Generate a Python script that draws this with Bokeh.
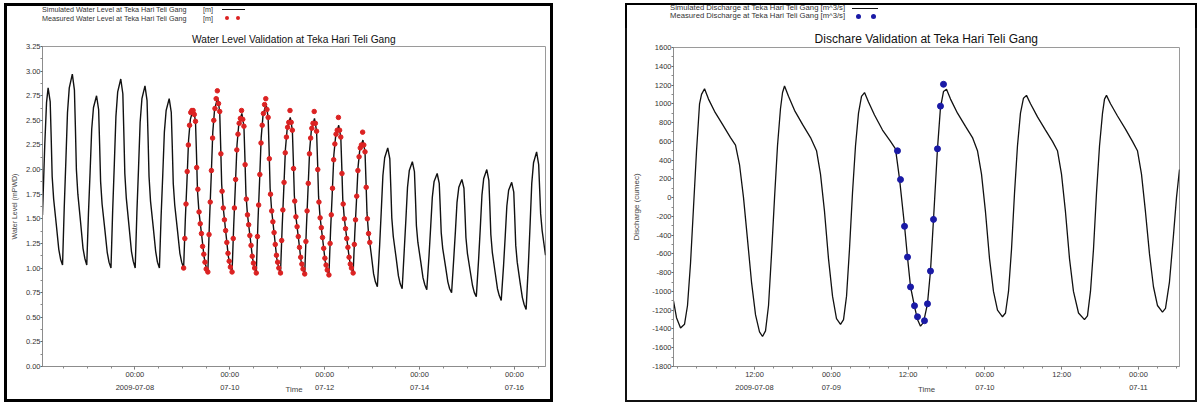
import pandas as pd
from bokeh.plotting import figure
from bokeh.layouts import row, column
from bokeh.models import (FixedTicker, Range1d, PrintfTickFormatter,
                          NumeralTickFormatter, ColumnDataSource, Div)
from bokeh.embed import file_html
from bokeh.resources import INLINE

FONT = "Liberation Sans"

# ---------------- Water level (left) ----------------
WL_BASE = "2009-07-06 00:00"
wl_sim_hours = [
    1.26, 2.4, 3.3, 4.1, 5.15, 5.65, 6.15, 6.9, 8.3, 9.5, 10.4, 11.4,
    12.25, 13.1, 13.9, 14.8, 16.35, 17.4, 17.9, 18.4, 19.15, 20.55, 21.75, 22.65, 23.65,
    24.5, 25.35, 26.15, 27.05, 28.6, 29.65, 30.15, 30.65, 31.4, 32.8, 34.0, 34.9, 35.9,
    36.75, 37.6, 38.4, 39.3, 40.85, 41.9, 42.4, 42.9, 43.65, 45.05, 46.25, 47.15, 48.15,
    49.0, 49.85, 50.65, 51.55, 53.1, 54.15, 54.65, 55.15, 55.9, 57.3, 58.5, 59.4, 60.4,
    61.25, 62.1, 62.9, 63.8, 65.35, 66.4, 66.9, 67.4, 68.15, 69.55, 70.75, 71.65, 72.65,
    73.5, 74.35, 75.15, 76.05, 77.6, 78.65, 79.15, 79.65, 80.4, 81.8, 83.0, 83.9, 84.9,
    85.75, 86.6, 87.4, 88.3, 89.85, 90.9, 91.4, 91.9, 92.65, 94.05, 95.25, 96.15, 97.15,
    98.0, 98.85, 99.65, 100.55, 102.1, 103.15, 103.65, 104.15, 104.9, 106.3, 107.5, 108.4, 109.4,
    110.25, 111.1, 111.9, 112.8, 114.35, 115.4, 115.9, 116.4, 117.15, 118.55, 119.75, 120.65, 121.65,
    122.5, 123.35, 124.15, 125.05, 126.6, 127.65, 128.15, 128.65, 129.4, 130.8, 132.0, 132.9, 133.9,
    134.75, 135.6, 136.4, 137.3, 138.85, 139.9, 140.4, 140.9, 141.65, 143.05, 144.25, 145.15, 146.15,
    147.0, 147.85, 148.65, 149.55, 151.1, 152.15, 152.65, 153.15, 153.9, 155.3, 156.5, 157.4, 158.4,
    159.25, 160.1, 160.9, 161.8, 163.35, 164.4, 164.9, 165.4, 166.15, 167.55, 168.75, 169.65, 170.65,
    171.8, 172.65, 173.45, 174.35, 175.9, 176.95, 177.45, 177.95, 178.7, 180.1, 181.3, 182.2, 183.2,
    184.25, 185.1, 185.9, 186.8, 188.35, 189.4, 189.9, 190.4, 191.15, 192.55, 193.75, 194.65, 195.65,
    196.8, 197.65, 198.45, 199.35, 200.9, 201.95, 202.45, 202.95, 203.7, 205.1, 206.3, 207.2, 208.2,
    209.3, 210.15, 210.95, 211.85, 213.4, 214.45, 214.95, 215.45, 216.2, 217.6, 218.8, 219.7, 220.7,
    221.9, 222.75, 223.55, 224.45, 226.0, 227.05, 227.55, 228.05, 228.8, 230.2, 231.4, 232.3, 233.3,
    234.5, 235.35, 236.15, 237.05, 238.6, 239.65, 240.15, 240.65, 241.4, 242.8, 244.0, 244.9, 245.9,
    247.1, 247.95, 248.75, 249.65, 251.2, 252.25, 252.75, 253.25, 254.0, 255.7,
]
wl_sim = [
    1.54, 2.25, 2.68, 2.83, 2.69, 2.33, 1.93, 1.70, 1.43, 1.19, 1.09, 1.03,
    1.61, 2.10, 2.58, 2.83, 2.97, 2.81, 2.43, 2.00, 1.75, 1.46, 1.20, 1.10, 1.03,
    1.55, 1.98, 2.41, 2.63, 2.75, 2.61, 2.26, 1.88, 1.65, 1.39, 1.16, 1.06, 1.00,
    1.58, 2.06, 2.54, 2.79, 2.92, 2.77, 2.38, 1.96, 1.71, 1.42, 1.17, 1.07, 1.00,
    1.56, 2.02, 2.48, 2.72, 2.85, 2.70, 2.33, 1.93, 1.68, 1.41, 1.17, 1.06, 1.00,
    1.52, 1.95, 2.38, 2.60, 2.72, 2.58, 2.24, 1.86, 1.64, 1.38, 1.15, 1.06, 1.00,
    1.49, 1.89, 2.30, 2.51, 2.62, 2.49, 2.16, 1.79, 1.57, 1.33, 1.11, 1.02, 0.96,
    1.49, 1.93, 2.38, 2.61, 2.73, 2.59, 2.23, 1.85, 1.62, 1.35, 1.12, 1.02, 0.96,
    1.44, 1.85, 2.25, 2.46, 2.57, 2.44, 2.12, 1.76, 1.55, 1.31, 1.10, 1.01, 0.95,
    1.47, 1.90, 2.33, 2.55, 2.67, 2.53, 2.19, 1.81, 1.59, 1.33, 1.10, 1.01, 0.95,
    1.42, 1.82, 2.21, 2.42, 2.53, 2.40, 2.09, 1.74, 1.53, 1.29, 1.08, 1.00, 0.94,
    1.41, 1.81, 2.20, 2.41, 2.52, 2.39, 2.08, 1.73, 1.52, 1.28, 1.07, 0.99, 0.93,
    1.39, 1.77, 2.15, 2.34, 2.45, 2.33, 2.03, 1.70, 1.51, 1.28, 1.09, 1.00, 0.95,
    1.36, 1.69, 2.03, 2.21, 2.30, 2.18, 1.88, 1.56, 1.36, 1.14, 0.94, 0.86, 0.81,
    1.23, 1.59, 1.94, 2.12, 2.22, 2.11, 1.82, 1.51, 1.32, 1.11, 0.92, 0.84, 0.79,
    1.18, 1.50, 1.82, 1.99, 2.08, 1.98, 1.72, 1.43, 1.26, 1.07, 0.90, 0.83, 0.78,
    1.13, 1.43, 1.72, 1.88, 1.96, 1.86, 1.62, 1.36, 1.20, 1.02, 0.86, 0.79, 0.75,
    1.10, 1.38, 1.67, 1.82, 1.90, 1.81, 1.57, 1.31, 1.15, 0.97, 0.82, 0.75, 0.71,
    1.10, 1.42, 1.74, 1.91, 2.00, 1.89, 1.63, 1.34, 1.16, 0.96, 0.79, 0.72, 0.67,
    1.03, 1.33, 1.63, 1.79, 1.87, 1.77, 1.51, 1.23, 1.06, 0.86, 0.70, 0.63, 0.58,
    1.06, 1.46, 1.86, 2.07, 2.18, 2.05, 1.80, 1.55, 1.38, 1.13,
]
wl_obs_hours = [
    72.65, 73.25, 73.85, 74.45, 75.05, 75.65, 76.25, 76.85, 77.45, 78.05,
    78.65, 79.25, 79.85, 80.45, 81.05, 81.65, 82.25, 82.85, 83.45, 84.05,
    84.9, 85.5, 86.1, 86.7, 87.3, 87.9, 88.5, 89.1, 89.7, 90.3,
    90.9, 91.5, 92.1, 92.7, 93.3, 93.9, 94.5, 95.1, 95.7, 96.3,
    97.15, 97.75, 98.35, 98.95, 99.55, 100.15, 100.75, 101.35, 101.95, 102.55,
    103.15, 103.75, 104.35, 104.95, 105.55, 106.15, 106.75, 107.35, 107.95, 108.55,
    109.4, 110.0, 110.6, 111.2, 111.8, 112.4, 113.0, 113.6, 114.2, 114.8,
    115.4, 116.0, 116.6, 117.2, 117.8, 118.4, 119.0, 119.6, 120.2, 120.8,
    121.65, 122.25, 122.85, 123.45, 124.05, 124.65, 125.25, 125.85, 126.45, 127.05,
    127.65, 128.25, 128.85, 129.45, 130.05, 130.65, 131.25, 131.85, 132.45, 133.05,
    133.9, 134.5, 135.1, 135.7, 136.3, 136.9, 137.5, 138.1, 138.7, 139.3,
    139.9, 140.5, 141.1, 141.7, 142.3, 142.9, 143.5, 144.1, 144.7, 145.3,
    146.15, 146.75, 147.35, 147.95, 148.55, 149.15, 149.75, 150.35, 150.95, 151.55,
    152.15, 152.75, 153.35, 153.95, 154.55, 155.15, 155.75, 156.35, 156.95, 157.55,
    158.4, 159.0, 159.6, 160.2, 160.8, 161.4, 162.0, 162.6, 163.2, 163.8,
    164.4, 165.0, 165.6, 166.2, 166.8,
]
wl_obs = [
    1.00, 1.30, 1.65, 1.98, 2.25, 2.45, 2.58, 2.60, 2.60, 2.56,
    2.49, 2.02, 1.80, 1.57, 1.45, 1.35, 1.22, 1.14, 1.06, 0.99,
    0.96, 1.34, 1.67, 1.99, 2.32, 2.50, 2.62, 2.72, 2.80, 2.67,
    2.59, 2.16, 1.78, 1.61, 1.49, 1.38, 1.26, 1.15, 1.07, 1.01,
    0.96, 1.30, 1.61, 1.90, 2.20, 2.36, 2.47, 2.52, 2.60, 2.51,
    2.44, 2.05, 1.70, 1.54, 1.44, 1.33, 1.23, 1.12, 1.05, 1.00,
    0.95, 1.32, 1.64, 1.95, 2.27, 2.45, 2.57, 2.66, 2.72, 2.61,
    2.53, 2.11, 1.75, 1.58, 1.47, 1.36, 1.24, 1.13, 1.06, 1.00,
    0.95, 1.28, 1.59, 1.87, 2.17, 2.33, 2.43, 2.48, 2.60, 2.48,
    2.40, 2.01, 1.68, 1.52, 1.42, 1.32, 1.21, 1.11, 1.04, 0.99,
    0.94, 1.27, 1.58, 1.86, 2.16, 2.32, 2.42, 2.47, 2.59, 2.47,
    2.39, 2.00, 1.67, 1.51, 1.41, 1.31, 1.20, 1.10, 1.03, 0.98,
    0.93, 1.25, 1.54, 1.81, 2.10, 2.26, 2.36, 2.40, 2.53, 2.40,
    2.33, 1.96, 1.65, 1.50, 1.40, 1.30, 1.21, 1.11, 1.04, 1.00,
    0.95, 1.24, 1.49, 1.73, 1.99, 2.13, 2.22, 2.25, 2.38, 2.25,
    2.18, 1.82, 1.50, 1.35, 1.26,
]
wl_x_range_hours = [1.26, 255.7]
wl_y_ticks = [0.0, 0.25, 0.5, 0.75, 1.0, 1.25, 1.5, 1.75, 2.0, 2.25, 2.5, 2.75, 3.0, 3.25]
wl_x_ticks = ["2009-07-08 00:00", "2009-07-10 00:00", "2009-07-12 00:00",
              "2009-07-14 00:00", "2009-07-16 00:00"]
wl_x_tick_labels = ["00:00\n2009-07-08", "00:00\n07-10", "00:00\n07-12",
                    "00:00\n07-14", "00:00\n07-16"]
wl_legend = ["Simulated Water Level at Teka Hari Teli Gang",
             "Measured Water Level at Teka Hari Teli Gang"]
wl_unit = "[m]"

# ---------------- Discharge (right) ----------------
Q_BASE = "2009-07-08 00:00"
q_sim_hours = [
    -0.66, -0.19, 0.44, 1.06, 1.53, 2.0, 2.47, 2.94, 3.41, 3.72, 4.19, 4.81, 5.75, 7.0, 8.25,
    9.03, 9.66, 10.28, 10.91, 11.53, 12.16, 12.78, 13.25, 13.72, 14.19, 14.66, 15.13, 15.59,
    16.06, 16.38, 16.69, 17.31, 18.25, 19.5, 20.75, 21.69, 22.31, 22.94, 23.56, 24.19, 24.81,
    25.44, 25.91, 26.38, 26.84, 27.31, 27.78, 28.25, 28.72, 29.19, 29.81, 30.75, 32.0, 33.25,
    34.03, 34.66, 35.44, 35.91, 36.38, 37.0, 37.47, 37.94, 38.41, 39.03, 39.5, 39.97, 40.59,
    41.06, 41.53, 42.0, 42.63, 43.72, 44.97, 46.06, 46.84, 47.47, 48.09, 48.72, 49.34, 49.97,
    50.75, 51.22, 51.69, 52.16, 52.63, 53.09, 53.56, 54.03, 54.5, 55.13, 56.22, 57.47, 58.56,
    59.34, 59.97, 60.59, 61.22, 61.84, 62.63, 63.56, 64.03, 64.5, 64.97, 65.44, 65.91, 66.38,
    66.69, 67.0, 67.63, 68.72, 69.97, 71.06, 71.84, 72.47, 73.09, 73.72, 74.34, 74.97, 75.75,
    76.22, 76.84, 77.47, 77.94, 78.41,
]
q_sim = [
    -1100, -1280, -1390, -1350, -1150, -700, -100, 500, 1000, 1100, 1160, 1050, 920, 780, 640,
    560, 350, 0, -450, -900, -1250, -1430, -1480, -1420, -1150, -600, 0, 550,
    950, 1120, 1190, 1080, 930, 780, 640, 500, 250, -150, -650, -1050, -1290,
    -1350, -1300, -1050, -550, 50, 550, 900, 1080, 1120, 1020, 880, 720, 600,
    520, 200, -300, -640, -950, -1160, -1300, -1370, -1330, -1130, -780, -230, 520,
    960, 1130, 1155, 1050, 900, 760, 640, 500, 250, -150, -650, -1000, -1200,
    -1270, -1230, -1000, -550, 50, 550, 900, 1060, 1090, 1000, 860, 720, 600,
    500, 250, -150, -650, -1000, -1230, -1300, -1260, -1000, -550, 50, 550, 900,
    1050, 1090, 1000, 870, 730, 600, 500, 250, -150, -600, -950, -1150, -1220,
    -1180, -900, -400, 0, 300,
]
q_obs_hours = [34.34, 34.81, 35.44, 35.91, 36.38, 37.0, 37.47,
               38.56, 39.03, 39.5, 39.97, 40.59, 41.06, 41.53]
q_obs = [499, 192, -306, -634, -952, -1153, -1270,
         -1312, -1132, -783, -232, 520, 975, 1208]
q_x_range_hours = [-0.66, 78.41]
q_y_ticks = [-1800, -1600, -1400, -1200, -1000, -800, -600, -400, -200, 0,
             200, 400, 600, 800, 1000, 1200, 1400, 1600]
q_x_ticks = ["2009-07-08 12:00", "2009-07-09 00:00", "2009-07-09 12:00",
             "2009-07-10 00:00", "2009-07-10 12:00", "2009-07-11 00:00"]
q_x_tick_labels = ["12:00\n2009-07-08", "00:00\n07-09", "12:00",
                   "00:00\n07-10", "12:00", "00:00\n07-11"]
q_legend = ["Simulated Discharge at Teka Hari Teli Gang [m^3/s]",
            "Measured Discharge at Teka Hari Teli Gang [m^3/s]"]

RED = "#dc2222"
BLUE = "#1a1aa6"


def to_dt(base, hours):
    return (pd.Timestamp(base) + pd.to_timedelta(hours, unit="h")).values


def ms(ts):
    return pd.Timestamp(ts).value / 1e6


def style_axes(p, tick_size):
    for ax in (p.xaxis[0], p.yaxis[0]):
        ax.axis_line_color = "#8c8c8c"
        ax.major_tick_line_color = "#666666"
        ax.minor_tick_line_color = "#888888"
        ax.major_tick_out = 3
        ax.major_tick_in = 0
        ax.minor_tick_out = 2
        ax.minor_tick_in = 0
        ax.major_label_text_font = FONT
        ax.major_label_text_font_size = tick_size
        ax.major_label_text_color = "#333333"
        ax.major_label_text_line_height = 1.5
        ax.major_label_standoff = 0
        ax.axis_label_text_font = FONT
        ax.axis_label_text_font_style = "normal"
        ax.axis_label_text_color = "#444444"
    p.yaxis.major_tick_out = 2
    p.grid.visible = False
    p.outline_line_color = "#9a9a9a"
    p.outline_line_width = 1
    p.border_fill_alpha = 0


def span(left, top, text, size):
    return (f'<span style="position:absolute;left:{left}px;top:{top}px;white-space:nowrap;'
            f'font-size:{size}px;line-height:1;">{text}</span>')


def hline(left, top, width, color):
    return (f'<span style="position:absolute;left:{left}px;top:{top}px;width:{width}px;'
            f'height:0;border-top:1.4px solid {color};"></span>')


def dot(cx, cy, d, color):
    return (f'<span style="position:absolute;left:{cx - d / 2}px;top:{cy - d / 2}px;width:{d}px;'
            f'height:{d}px;border-radius:50%;background:{color};"></span>')


def legend_div(width, height, border, inner):
    html = (f'<div style="position:relative;width:{width - 2 * border}px;height:{height - border}px;'
            f'font-family:\'{FONT}\';color:#333333;overflow:visible;">{inner}</div>')
    d = Div(text=html, width=width, height=height, margin=0)
    d.styles = {"border": f"{border}px solid #000000", "border-bottom": "none",
                "box-sizing": "border-box", "background": "#ffffff", "overflow": "visible"}
    return d


# ---------- left panel ----------
wl_x0 = ms(pd.Timestamp(WL_BASE) + pd.Timedelta(hours=wl_x_range_hours[0]))
wl_x1 = ms(pd.Timestamp(WL_BASE) + pd.Timedelta(hours=wl_x_range_hours[1]))
p1 = figure(width=549, height=373, x_axis_type="datetime", output_backend="svg",
            toolbar_location=None, x_range=Range1d(wl_x0, wl_x1),
            y_range=Range1d(wl_y_ticks[0], wl_y_ticks[-1]),
            min_border_left=35, min_border_right=11, min_border_top=17, min_border_bottom=36,
            title="Water Level Validation at Teka Hari Teli Gang", margin=0)
p1.title.text_font = FONT
p1.title.text_font_size = "10.2px"
p1.title.text_font_style = "normal"
p1.title.text_color = "#111111"
p1.title.align = "center"
p1.title.standoff = 3
style_axes(p1, "7.5px")
wl_major = [ms(t) for t in wl_x_ticks]
wl_minor = [ms(pd.Timestamp("2009-07-06 12:00") + pd.Timedelta(hours=12 * i)) for i in range(21)]
p1.xaxis.ticker = FixedTicker(ticks=wl_major, minor_ticks=wl_minor)
p1.xaxis.major_label_overrides = dict(zip(wl_major, wl_x_tick_labels))
p1.xaxis.axis_label = "Time"
p1.xaxis.axis_label_text_font_size = "7.8px"
p1.xaxis.axis_label_standoff = -10
p1.yaxis.ticker = FixedTicker(ticks=wl_y_ticks,
                              minor_ticks=[v + 0.125 for v in wl_y_ticks[:-1]])
p1.yaxis.formatter = NumeralTickFormatter(format="0.00")
p1.yaxis.axis_label = "Water Level (mPWD)"
p1.yaxis.axis_label_text_font_size = "7px"
p1.yaxis.axis_label_standoff = 5

src1 = ColumnDataSource(dict(t=to_dt(WL_BASE, wl_sim_hours), v=wl_sim))
obs1 = ColumnDataSource(dict(t=to_dt(WL_BASE, wl_obs_hours), v=wl_obs))
p1.line("t", "v", source=src1, line_color="#111111", line_width=1.4)
p1.scatter("t", "v", source=obs1, size=4.5, fill_color=RED, line_color=RED)
p1.styles = {"border": "3px solid #000000", "border-top": "none"}

leg1_inner = (span(35, 0, wl_legend[0], 7.2) + span(35, 8.5, wl_legend[1], 7.2)
              + span(196, 0, wl_unit, 7.2) + span(196, 8.5, wl_unit, 7.2)
              + hline(215, 3, 23, "#111111")
              + dot(220, 12, 4, RED) + dot(231, 12, 4, RED))
div1 = legend_div(549, 26, 3, leg1_inner)
panel1 = column(div1, p1, spacing=0)
panel1.margin = (3, 0, 0, 4)

# ---------- right panel ----------
q_x0 = ms(pd.Timestamp(Q_BASE) + pd.Timedelta(hours=q_x_range_hours[0]))
q_x1 = ms(pd.Timestamp(Q_BASE) + pd.Timedelta(hours=q_x_range_hours[1]))
p2 = figure(width=572, height=374, x_axis_type="datetime", output_backend="svg",
            toolbar_location=None, x_range=Range1d(q_x0, q_x1),
            y_range=Range1d(q_y_ticks[0], q_y_ticks[-1]),
            min_border_left=46, min_border_right=20, min_border_top=18, min_border_bottom=36,
            title="Dischare Validation at Teka Hari Teli Gang", margin=0)
p2.title.text_font = FONT
p2.title.text_font_size = "12px"
p2.title.text_font_style = "normal"
p2.title.text_color = "#111111"
p2.title.align = "center"
p2.title.standoff = 3
style_axes(p2, "7.5px")
q_major = [ms(t) for t in q_x_ticks]
q_minor = [ms(pd.Timestamp("2009-07-08 00:00") + pd.Timedelta(hours=3 * i)) for i in range(27)]
p2.xaxis.ticker = FixedTicker(ticks=q_major, minor_ticks=q_minor)
p2.xaxis.major_label_overrides = dict(zip(q_major, q_x_tick_labels))
p2.xaxis.axis_label = "Time"
p2.xaxis.axis_label_text_font_size = "7.8px"
p2.xaxis.axis_label_standoff = -10
p2.yaxis.ticker = FixedTicker(ticks=q_y_ticks,
                              minor_ticks=[v + 100 for v in q_y_ticks[:-1]])
p2.yaxis.formatter = PrintfTickFormatter(format="%d")
p2.yaxis.axis_label = "Discharge (cumec)"
p2.yaxis.axis_label_text_font_size = "8px"
p2.yaxis.axis_label_standoff = 8

src2 = ColumnDataSource(dict(t=to_dt(Q_BASE, q_sim_hours), v=q_sim))
obs2 = ColumnDataSource(dict(t=to_dt(Q_BASE, q_obs_hours), v=q_obs))
p2.line("t", "v", source=src2, line_color="#111111", line_width=1.3)
p2.scatter("t", "v", source=obs2, size=6, fill_color=BLUE, line_color=BLUE)
p2.styles = {"border": "2px solid #111111", "border-top": "none"}

leg2_inner = (span(43, -1, q_legend[0], 7.7) + span(43, 7.2, q_legend[1], 7.7)
              + hline(225, 2.7, 26, "#111111")
              + dot(231, 11, 5, BLUE) + dot(246, 11, 5, BLUE))
div2 = legend_div(572, 25, 2, leg2_inner)
panel2 = column(div2, p2, spacing=0)
panel2.margin = (3, 0, 0, 72)

layout = row(panel1, panel2, spacing=0)

open("out.html", "w").write(file_html(layout, INLINE))
